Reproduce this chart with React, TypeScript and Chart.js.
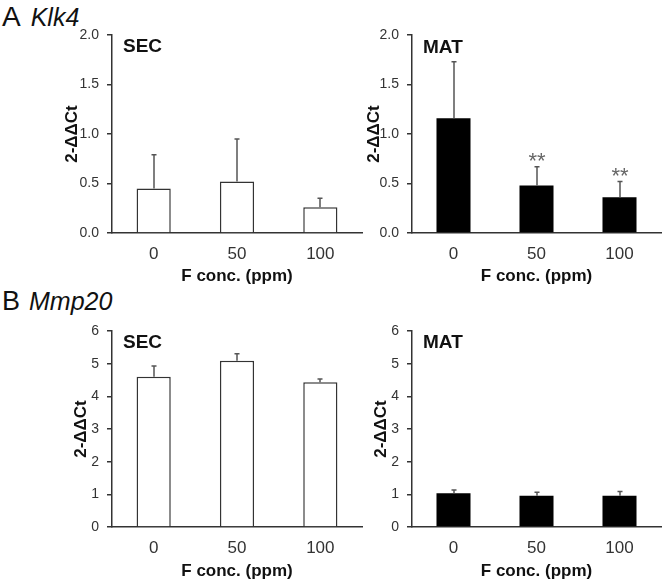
import React, { useEffect, useRef } from 'react';
import { Chart, registerables } from 'chart.js';

Chart.register(...registerables);

const FONT = '"Liberation Sans", Arial, Helvetica, sans-serif';

// ---- data ----
const doses = ['0', '50', '100'];
const klk4Ticks = [0, 0.5, 1.0, 1.5, 2.0];
const mmp20Ticks = [0, 1, 2, 3, 4, 5, 6];

const klk4SecMean = [0.45, 0.52, 0.26];
const klk4SecUpper = [0.79, 0.95, 0.35];
const klk4SecSig = ['', '', ''];

const klk4MatMean = [1.16, 0.48, 0.36];
const klk4MatUpper = [1.73, 0.67, 0.52];
const klk4MatSig = ['', '**', '**'];

const mmp20SecMean = [4.6, 5.09, 4.43];
const mmp20SecUpper = [4.93, 5.3, 4.53];
const mmp20SecSig = ['', '', ''];

const mmp20MatMean = [1.03, 0.96, 0.96];
const mmp20MatUpper = [1.13, 1.06, 1.09];
const mmp20MatSig = ['', '', ''];

const yTitle = '2-ΔΔCt';
const xTitle = 'F conc. (ppm)';

type PanelProps = {
  left: number; top: number; width: number; height: number;
  axisX: number; areaRight: number; areaTop: number; areaBottom: number;
  yTitleX: number; xTickY: number; xTitleY: number; labelY: number;
  label: string; means: number[]; uppers: number[]; sig: string[];
  ticks: number[]; decimals: number; fill: string; border: string; borderWidth: number;
};

function Panel(p: PanelProps) {
  const ref = useRef<HTMLCanvasElement | null>(null);
  useEffect(() => {
    if (!ref.current) return;
    const axisColor = '#333333';
    const tickFont = 14;
    const xTickFont = 17;
    const titleFont = 17;
    const lh = (s: number) => s * 1.2;

    const extras = {
      id: 'extras',
      afterDatasetsDraw(chart: any) {
        const ctx = chart.ctx;
        const xs = chart.scales.x;
        const ys = chart.scales.y;
        ctx.save();
        ctx.strokeStyle = '#555';
        ctx.lineWidth = 1.5;
        p.means.forEach((m, i) => {
          const x = Math.round(xs.getPixelForValue(i));
          const y0 = ys.getPixelForValue(m);
          const y1 = ys.getPixelForValue(p.uppers[i]);
          ctx.beginPath();
          ctx.moveTo(x, y0);
          ctx.lineTo(x, y1);
          ctx.moveTo(x - 2.5, y1);
          ctx.lineTo(x + 2.5, y1);
          ctx.stroke();
          if (p.sig[i]) {
            ctx.fillStyle = '#666';
            ctx.font = `22px ${FONT}`;
            ctx.textAlign = 'center';
            ctx.textBaseline = 'middle';
            ctx.fillText(p.sig[i], x, y1 - 5);
          }
        });
        ctx.fillStyle = '#111';
        ctx.font = `bold 19px ${FONT}`;
        ctx.textAlign = 'left';
        ctx.textBaseline = 'middle';
        ctx.fillText(p.label, chart.chartArea.left + 11, p.labelY);
        ctx.restore();
      },
    };

    const chart = new Chart(ref.current, {
      type: 'bar',
      data: {
        labels: doses,
        datasets: [
          {
            data: p.means,
            backgroundColor: p.fill,
            borderColor: p.border,
            borderWidth: p.borderWidth,
            barPercentage: 0.41,
            categoryPercentage: 1,
          },
        ],
      },
      options: {
        responsive: false,
        animation: false,
        devicePixelRatio: 1,
        layout: {
          padding: { left: 0, top: p.areaTop, right: p.width - p.areaRight, bottom: 0 },
        },
        plugins: { legend: { display: false }, tooltip: { enabled: false } },
        scales: {
          x: {
            grid: { display: false, drawTicks: false },
            border: { display: true, color: axisColor, width: 1.5 },
            ticks: {
              color: '#333',
              font: { family: FONT, size: xTickFont },
              padding: p.xTickY - p.areaBottom - lh(xTickFont) / 2,
              maxRotation: 0,
            },
            title: {
              display: true,
              text: xTitle,
              color: '#111',
              font: { family: FONT, size: titleFont, weight: 'bold' },
              padding: { top: 0, bottom: p.height - p.xTitleY - lh(titleFont) / 2 },
            },
            afterFit: (s: any) => { s.height = p.height - p.areaBottom; },
          },
          y: {
            min: p.ticks[0],
            max: p.ticks[p.ticks.length - 1],
            afterBuildTicks: (s: any) => { s.ticks = p.ticks.map((v) => ({ value: v })); },
            grid: {
              display: true,
              drawOnChartArea: false,
              drawTicks: true,
              tickLength: 5,
              color: axisColor,
              lineWidth: 1.5,
            },
            border: { display: true, color: axisColor, width: 1.5 },
            ticks: {
              color: '#333',
              font: { family: FONT, size: tickFont },
              padding: 8,
              callback: (v: any) => Number(v).toFixed(p.decimals),
            },
            title: {
              display: true,
              text: yTitle,
              color: '#111',
              font: { family: FONT, size: titleFont, weight: 'bold' },
              padding: { top: p.yTitleX - lh(titleFont) / 2, bottom: 0 },
            },
            afterFit: (s: any) => { s.width = p.axisX; },
          },
        },
      },
      plugins: [extras],
    });
    return () => chart.destroy();
  }, []);
  return (
    <canvas
      ref={ref}
      width={p.width}
      height={p.height}
      style={{ position: 'absolute', left: p.left, top: p.top, width: p.width, height: p.height }}
    />
  );
}

const headStyle: React.CSSProperties = {
  position: 'absolute',
  left: 2,
  fontFamily: FONT,
  lineHeight: 1,
  color: '#111',
  whiteSpace: 'nowrap',
};

export default function App() {
  const common = { height: 291, axisX: 0, areaRight: 0 };
  return (
    <div style={{ position: 'absolute', left: 0, top: 0, width: 664, height: 582, background: '#fff', overflow: 'hidden' }}>
      <div style={{ ...headStyle, top: 3 }}>
        <span style={{ fontSize: 28 }}>A</span>
        <span style={{ fontSize: 25, fontStyle: 'italic', marginLeft: 10 }}>Klk4</span>
      </div>
      <div style={{ ...headStyle, top: 288 }}>
        <span style={{ fontSize: 27 }}>B</span>
        <span style={{ fontSize: 25, fontStyle: 'italic', marginLeft: 9 }}>Mmp20</span>
      </div>
      <Panel {...common} left={0} top={0} width={370} axisX={112} areaRight={362} areaTop={35} areaBottom={233}
        yTitleX={72} xTickY={254} xTitleY={276} labelY={47} label="SEC"
        means={klk4SecMean} uppers={klk4SecUpper} sig={klk4SecSig} ticks={klk4Ticks} decimals={1}
        fill="#ffffff" border="#333333" borderWidth={1.5} />
      <Panel {...common} left={332} top={0} width={332} axisX={80} areaRight={329} areaTop={35} areaBottom={233}
        yTitleX={42} xTickY={254} xTitleY={276} labelY={48} label="MAT"
        means={klk4MatMean} uppers={klk4MatUpper} sig={klk4MatSig} ticks={klk4Ticks} decimals={1}
        fill="#000000" border="#000000" borderWidth={0} />
      <Panel {...common} left={0} top={291} width={370} axisX={112} areaRight={362} areaTop={40} areaBottom={236}
        yTitleX={81} xTickY={257} xTitleY={280} labelY={52} label="SEC"
        means={mmp20SecMean} uppers={mmp20SecUpper} sig={mmp20SecSig} ticks={mmp20Ticks} decimals={0}
        fill="#ffffff" border="#333333" borderWidth={1.5} />
      <Panel {...common} left={332} top={291} width={332} axisX={80} areaRight={329} areaTop={40} areaBottom={236}
        yTitleX={49} xTickY={257} xTitleY={280} labelY={52} label="MAT"
        means={mmp20MatMean} uppers={mmp20MatUpper} sig={mmp20MatSig} ticks={mmp20Ticks} decimals={0}
        fill="#000000" border="#000000" borderWidth={0} />
    </div>
  );
}
